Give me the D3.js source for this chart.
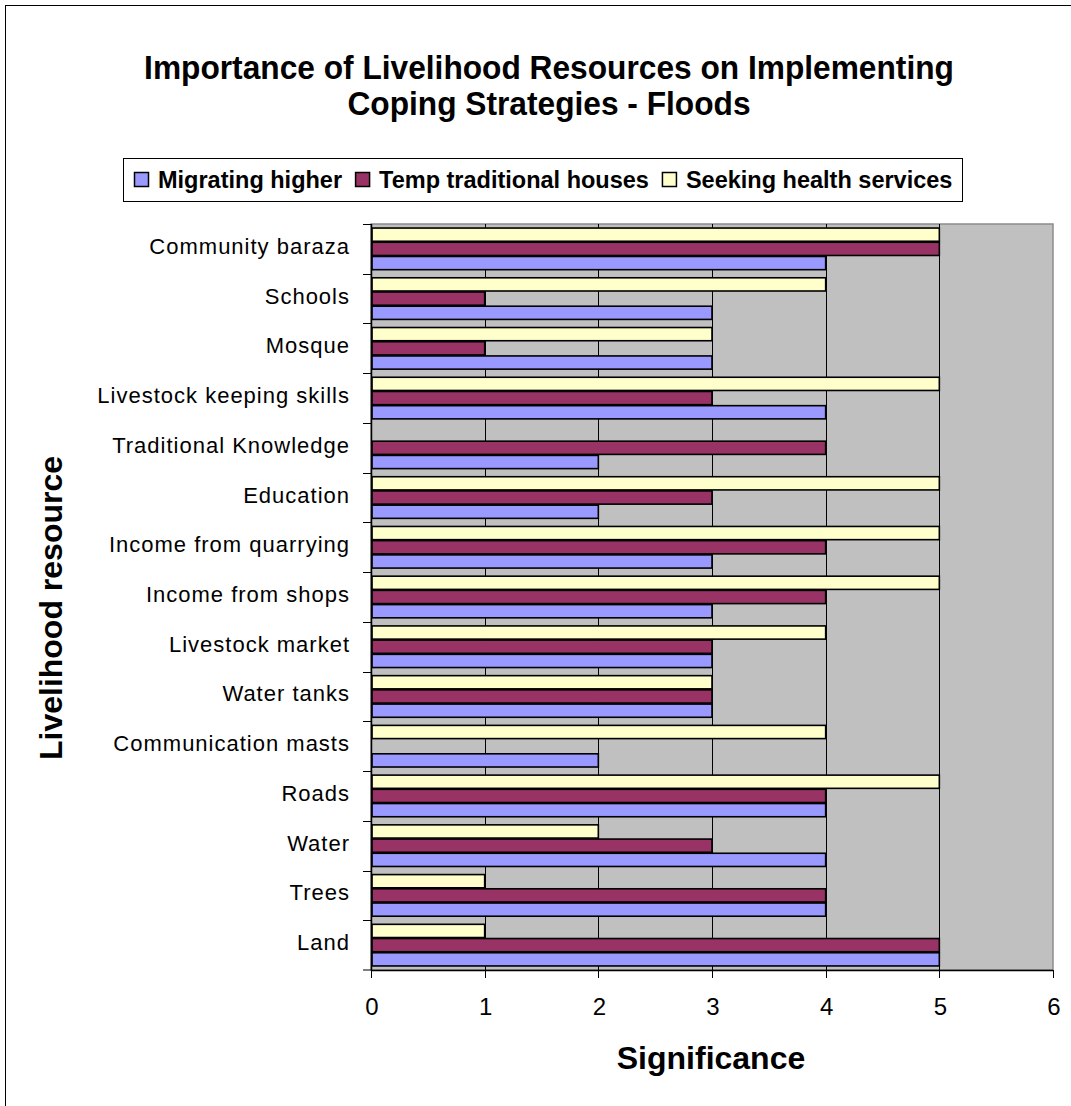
<!DOCTYPE html>
<html>
<head>
<meta charset="utf-8">
<script src="https://cdn.jsdelivr.net/npm/d3@7"></script>
<style>
  html, body { margin: 0; padding: 0; background: #fff; }
  svg { display: block; font-family: "Liberation Sans", Arial, sans-serif; }
</style>
</head>
<body>
<svg id="chart" width="1071" height="1106"></svg>
<script>
// ---- Data ----
const categories = [
  "Community baraza", "Schools", "Mosque", "Livestock keeping skills",
  "Traditional Knowledge", "Education", "Income from quarrying",
  "Income from shops", "Livestock market", "Water tanks",
  "Communication masts", "Roads", "Water", "Trees", "Land"
];
const seriesNames = ["Migrating higher", "Temp traditional houses", "Seeking health services"];
const migratingHigher       = [4, 3, 3, 4, 2, 2, 3, 3, 3, 3, 2, 4, 4, 4, 5];
const tempTraditionalHouses = [5, 1, 1, 3, 4, 3, 4, 4, 3, 3, 0, 4, 3, 4, 5];
const seekingHealthServices = [5, 4, 3, 5, 0, 5, 5, 5, 4, 3, 4, 5, 2, 1, 1];
const xTicks = [0, 1, 2, 3, 4, 5, 6];
const seriesColors = ["#9999FF", "#993366", "#FFFFCC"];

const seriesValues = [migratingHigher, tempTraditionalHouses, seekingHealthServices];

// ---- Layout ----
const svg = d3.select("#chart");
const plot = { left: 371, right: 1053, top: 224, bottom: 970 };

const x = d3.scaleLinear().domain([0, 6]).range([plot.left, plot.right]);
const y = d3.scaleBand().domain(categories).range([plot.top, plot.bottom]).paddingInner(0).paddingOuter(0);
// within band: top = Seeking, middle = Temp, bottom = Migrating
const inner = d3.scaleBand().domain([2, 1, 0]).range([0, y.bandwidth()]).paddingInner(0).paddingOuter(0.25);

// outer frame
svg.append("rect").attr("x", 5.5).attr("y", 5.5).attr("width", 1100).attr("height", 1200)
  .attr("fill", "none").attr("stroke", "#000").attr("stroke-width", 1);

// title (slightly condensed, like the reference)
const titleG = svg.append("g");
const t1 = titleG.append("text").attr("y", 79).attr("text-anchor", "middle")
  .attr("font-size", 33).attr("font-weight", "bold").text("Importance of Livelihood Resources on Implementing");
const t2 = titleG.append("text").attr("y", 115).attr("text-anchor", "middle")
  .attr("font-size", 33).attr("font-weight", "bold").text("Coping Strategies - Floods");
const sx = 810 / t1.node().getComputedTextLength();
titleG.attr("transform", `translate(549,0) scale(${sx},1)`);

// legend
const legend = svg.append("g");
legend.append("rect").attr("x", 123.5).attr("y", 158.5).attr("width", 839).attr("height", 43)
  .attr("fill", "#fff").attr("stroke", "#000").attr("stroke-width", 1);
let lx = 134;
seriesNames.forEach((name, i) => {
  legend.append("rect").attr("x", lx + 0.5).attr("y", 172.5).attr("width", 14).attr("height", 14)
    .attr("fill", seriesColors[i]).attr("stroke", "#000").attr("stroke-width", 1.5);
  const tx = legend.append("text").attr("x", lx + 24).attr("y", 188).attr("font-size", 23.5)
    .attr("font-weight", "bold").text(name);
  lx = lx + 24 + tx.node().getComputedTextLength() + 13;
});

// plot background
svg.append("rect").attr("x", plot.left).attr("y", plot.top)
  .attr("width", plot.right - plot.left).attr("height", plot.bottom - plot.top)
  .attr("fill", "#C0C0C0").attr("stroke", "#8c8c8c").attr("stroke-width", 1.5);

// gridlines
svg.append("g").selectAll("line").data(xTicks.filter(d => d > 0 && d < 6)).join("line")
  .attr("x1", d => Math.round(x(d)) + 0.5).attr("x2", d => Math.round(x(d)) + 0.5)
  .attr("y1", plot.top).attr("y2", plot.bottom)
  .attr("stroke", "#000").attr("stroke-width", 1);

// bars
const barsG = svg.append("g");
seriesValues.forEach((vals, si) => {
  barsG.append("g").selectAll("rect").data(categories.map((c, ci) => ({ c, v: vals[ci] })).filter(d => d.v > 0))
    .join("rect")
    .attr("x", plot.left + 1)
    .attr("y", d => y(d.c) + inner(si) + 0.5)
    .attr("width", d => x(d.v) - plot.left - 1)
    .attr("height", inner.bandwidth() - 1)
    .attr("fill", seriesColors[si])
    .attr("stroke", "#000").attr("stroke-width", 1.6);
});

// y axis line and ticks
const yAxisG = svg.append("g").attr("transform", `translate(${plot.left},0)`);
yAxisG.append("line").attr("x1", 0.5).attr("x2", 0.5).attr("y1", plot.top).attr("y2", plot.bottom)
  .attr("stroke", "#000").attr("stroke-width", 1.5);
yAxisG.selectAll("line.tick").data(categories.concat(["__end"])).join("line").attr("class", "tick")
  .attr("x1", -8).attr("x2", 0)
  .attr("y1", d => d === "__end" ? plot.bottom : Math.round(y(d)) + 0.5)
  .attr("y2", d => d === "__end" ? plot.bottom : Math.round(y(d)) + 0.5)
  .attr("stroke", "#000").attr("stroke-width", 1);
yAxisG.selectAll("text").data(categories).join("text")
  .attr("x", -21).attr("y", d => y(d) + y.bandwidth() / 2 + 5)
  .attr("text-anchor", "end").attr("font-size", 22).attr("letter-spacing", 1.0)
  .attr("fill", "#000").text(d => d);

// x axis
const xAxisG = svg.append("g").attr("transform", `translate(0,${plot.bottom})`);
xAxisG.append("line").attr("x1", plot.left).attr("x2", plot.right).attr("y1", 0.5).attr("y2", 0.5)
  .attr("stroke", "#000").attr("stroke-width", 1.5);
xAxisG.selectAll("line.tick").data(xTicks).join("line").attr("class", "tick")
  .attr("x1", d => Math.round(x(d)) + 0.5).attr("x2", d => Math.round(x(d)) + 0.5)
  .attr("y1", 0).attr("y2", 8).attr("stroke", "#000").attr("stroke-width", 1);
xAxisG.selectAll("text").data(xTicks).join("text")
  .attr("x", d => x(d) + 1).attr("y", 45).attr("text-anchor", "middle")
  .attr("font-size", 24).text(d => d);

// axis titles
svg.append("text").attr("x", 711).attr("y", 1069).attr("text-anchor", "middle")
  .attr("font-size", 32).attr("font-weight", "bold").text("Significance");
svg.append("text").attr("transform", "translate(62,608) rotate(-90)").attr("text-anchor", "middle")
  .attr("font-size", 32).attr("font-weight", "bold").text("Livelihood resource");
</script>
</body>
</html>
